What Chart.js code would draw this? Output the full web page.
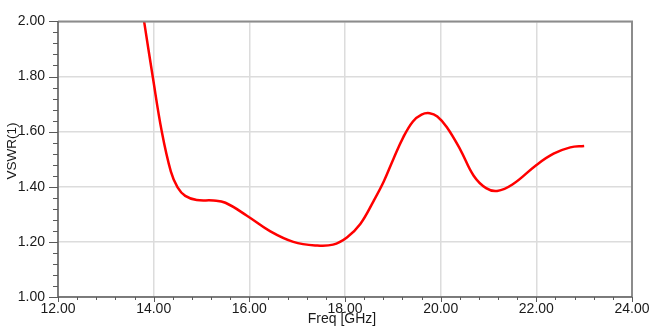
<!DOCTYPE html>
<html>
<head>
<meta charset="utf-8">
<script src="https://cdn.jsdelivr.net/npm/chart.js@4.4.1/dist/chart.umd.min.js"></script>
<style>
  html, body { margin: 0; padding: 0; background: #ffffff; }
  #wrap { position: relative; width: 660px; height: 332px; }
</style>
</head>
<body>
<div id="wrap"><canvas id="c" width="660" height="332"></canvas></div>
<script>
// Data
const freqGHz = [13.80, 13.98, 14.17, 14.36, 14.50, 14.66, 14.90, 15.25, 15.50, 15.95,
                 16.44, 16.92, 17.40, 17.75, 18.04, 18.32, 18.60, 18.81, 19.01, 19.22,
                 19.42, 19.60, 19.77, 19.93, 20.13, 20.41, 20.69, 20.95, 21.18, 21.50,
                 22.01, 22.36, 22.71, 23.00];
const vswr    = [2.000, 1.800, 1.600, 1.455, 1.398, 1.367, 1.352, 1.350, 1.342, 1.295,
                 1.238, 1.200, 1.187, 1.190, 1.216, 1.265, 1.349, 1.419, 1.500, 1.580,
                 1.637, 1.662, 1.667, 1.655, 1.616, 1.535, 1.440, 1.395, 1.385, 1.408,
                 1.480, 1.520, 1.543, 1.548];
const xTickLabels = ["12.00", "14.00", "16.00", "18.00", "20.00", "22.00", "24.00"];
const yTickLabels = ["1.00", "1.20", "1.40", "1.60", "1.80", "2.00"];
const xTitle = "Freq [GHz]";
const yTitle = "VSWR(1)";
const seriesName = "VSWR(1)";

const FONT = "'Liberation Sans', Arial, sans-serif";

const points = freqGHz.map((f, i) => ({ x: f, y: vswr[i] }));

const decorPlugin = {
  id: 'decor',
  afterDraw(chart) {
    const ctx = chart.ctx;
    const a = chart.chartArea;
    const xs = chart.scales.x, ys = chart.scales.y;
    ctx.save();
    // frame: top and right
    ctx.strokeStyle = '#8c8c8c';
    ctx.lineWidth = 2;
    ctx.beginPath();
    ctx.moveTo(a.left, a.top);
    ctx.lineTo(a.right, a.top);
    ctx.lineTo(a.right, a.bottom);
    ctx.stroke();
    // left and bottom axis lines
    ctx.strokeStyle = '#5a5a5a';
    ctx.lineWidth = 1.5;
    ctx.beginPath();
    ctx.moveTo(a.left, a.top);
    ctx.lineTo(a.left, a.bottom);
    ctx.lineTo(a.right, a.bottom);
    ctx.stroke();
    // y ticks (major every 0.2, minor every 0.04)
    ctx.lineWidth = 1;
    ctx.strokeStyle = '#5a5a5a';
    ctx.beginPath();
    for (let k = 0; k <= 25; k++) {
      const v = 1 + k * 0.04;
      const py = Math.round(ys.getPixelForValue(v)) + 0.5;
      const len = (k % 5 === 0) ? 9 : 5;
      ctx.moveTo(a.left - len, py);
      ctx.lineTo(a.left, py);
    }
    // x ticks (major every 2, minor every 0.4)
    for (let k = 0; k <= 30; k++) {
      const v = 12 + k * 0.4;
      const px = Math.round(xs.getPixelForValue(v)) + 0.5;
      const len = (k % 5 === 0) ? 5 : 3;
      ctx.moveTo(px, a.bottom);
      ctx.lineTo(px, a.bottom + len);
    }
    ctx.stroke();
    // titles
    ctx.fillStyle = '#1a1a1a';
    ctx.font = '14px ' + FONT;
    ctx.textAlign = 'center';
    ctx.textBaseline = 'alphabetic';
    ctx.fillText(xTitle, 342, 323);
    ctx.translate(12, 151);
    ctx.rotate(-Math.PI / 2);
    ctx.textBaseline = 'middle';
    ctx.font = '13.5px ' + FONT;
    ctx.fillText(yTitle, 0, 0);
    ctx.restore();
  }
};

new Chart(document.getElementById('c'), {
  type: 'line',
  data: {
    datasets: [{
      label: seriesName,
      data: points,
      borderColor: '#ff0000',
      borderWidth: 2.5,
      pointRadius: 0,
      fill: false,
      tension: 0.4
    }]
  },
  options: {
    responsive: false,
    animation: false,
    devicePixelRatio: 1,
    layout: { padding: { top: 9, right: 28, left: 0, bottom: 0 } },
    plugins: { legend: { display: false }, tooltip: { enabled: false } },
    scales: {
      x: {
        type: 'linear',
        min: 12, max: 24,
        afterFit(s) { s.height = 35; },
        border: { display: false },
        grid: { color: '#dcdcdc', lineWidth: 1.5, drawTicks: false },
        ticks: {
          stepSize: 2,
          autoSkip: false,
          maxRotation: 0,
          padding: 4,
          color: '#1a1a1a',
          font: { family: FONT, size: 14 },
          callback: (v) => xTickLabels[Math.round((v - 12) / 2)]
        }
      },
      y: {
        type: 'linear',
        min: 1, max: 2,
        afterFit(s) { s.width = 58; },
        border: { display: false },
        grid: { color: '#dcdcdc', lineWidth: 1.5, drawTicks: false },
        ticks: {
          stepSize: 0.2,
          autoSkip: false,
          padding: 13,
          color: '#1a1a1a',
          font: { family: FONT, size: 14 },
          callback: (v) => yTickLabels[Math.round((v - 1) / 0.2)]
        }
      }
    }
  },
  plugins: [decorPlugin]
});
</script>
</body>
</html>
